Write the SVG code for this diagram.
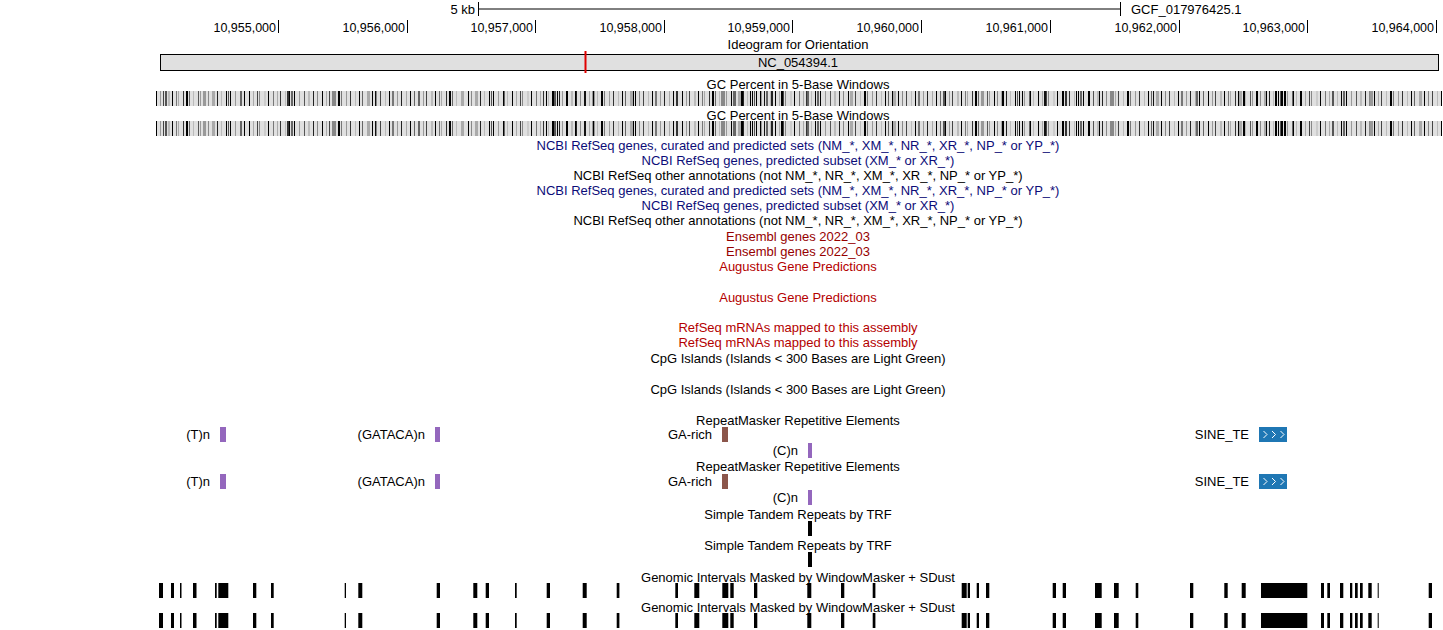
<svg xmlns="http://www.w3.org/2000/svg" xmlns:xlink="http://www.w3.org/1999/xlink" width="1443" height="630" viewBox="0 0 1443 630">
<style>
text{font-family:"Liberation Sans",Arial,Helvetica,sans-serif;font-size:13px;fill:#000}
.c{text-anchor:middle}
.e{text-anchor:end}
.r{font-size:12.5px}
text.blue{fill:#0c0c78}
text.ens{fill:#960000}
text.red{fill:#b40000}
.ln{stroke:#000;stroke-width:1;fill:none}
.pur{fill:#9467bd}
.brn{fill:#8c564b}
.sine{fill:#1f77b4}
.chev{stroke:#fff;stroke-width:1;fill:none}
</style>
<defs>
<pattern id="gcA" x="156" y="0" width="263" height="15" patternUnits="userSpaceOnUse">
<rect width="263" height="15" fill="#e0e0e0"/>
<rect x="0" width="1" height="15" fill="#000"/><rect x="4" width="1" height="15" fill="#999"/><rect x="7" width="1" height="15" fill="#444"/><rect x="12" width="2" height="15" fill="#bbb"/><rect x="16" width="1" height="15" fill="#000"/><rect x="20" width="1" height="15" fill="#777"/><rect x="22" width="1" height="15" fill="#aaa"/><rect x="27" width="1" height="15" fill="#333"/><rect x="30" width="2" height="15" fill="#000"/><rect x="33" width="1" height="15" fill="#666"/><rect x="37" width="1" height="15" fill="#bbb"/><rect x="42" width="1" height="15" fill="#555"/><rect x="44" width="1" height="15" fill="#999"/><rect x="49" width="1" height="15" fill="#000"/><rect x="52" width="1" height="15" fill="#888"/><rect x="56" width="3" height="15" fill="#aaa"/><rect x="61" width="1" height="15" fill="#222"/><rect x="65" width="1" height="15" fill="#bbb"/><rect x="70" width="1" height="15" fill="#000"/><rect x="72" width="1" height="15" fill="#555"/><rect x="74" width="1" height="15" fill="#000"/><rect x="79" width="1" height="15" fill="#999"/><rect x="84" width="2" height="15" fill="#666"/><rect x="88" width="1" height="15" fill="#bbb"/><rect x="93" width="1" height="15" fill="#000"/><rect x="97" width="1" height="15" fill="#aaa"/><rect x="101" width="1" height="15" fill="#444"/><rect x="103" width="1" height="15" fill="#888"/><rect x="108" width="2" height="15" fill="#ccc"/><rect x="112" width="1" height="15" fill="#000"/><rect x="117" width="1" height="15" fill="#777"/><rect x="121" width="1" height="15" fill="#aaa"/><rect x="124" width="1" height="15" fill="#333"/><rect x="129" width="1" height="15" fill="#bbb"/><rect x="133" width="1" height="15" fill="#000"/><rect x="135" width="2" height="15" fill="#666"/><rect x="138" width="1" height="15" fill="#000"/><rect x="143" width="1" height="15" fill="#999"/><rect x="148" width="1" height="15" fill="#555"/><rect x="152" width="2" height="15" fill="#bbb"/><rect x="157" width="1" height="15" fill="#222"/><rect x="161" width="1" height="15" fill="#888"/><rect x="166" width="1" height="15" fill="#000"/><rect x="170" width="1" height="15" fill="#aaa"/><rect x="173" width="1" height="15" fill="#444"/><rect x="178" width="1" height="15" fill="#bbb"/><rect x="182" width="2" height="15" fill="#000"/><rect x="185" width="1" height="15" fill="#777"/><rect x="190" width="1" height="15" fill="#999"/><rect x="194" width="1" height="15" fill="#333"/><rect x="199" width="1" height="15" fill="#bbb"/><rect x="203" width="1" height="15" fill="#000"/><rect x="206" width="1" height="15" fill="#666"/><rect x="211" width="3" height="15" fill="#aaa"/><rect x="216" width="1" height="15" fill="#000"/><rect x="220" width="1" height="15" fill="#888"/><rect x="224" width="1" height="15" fill="#444"/><rect x="229" width="1" height="15" fill="#bbb"/><rect x="233" width="1" height="15" fill="#000"/><rect x="236" width="2" height="15" fill="#777"/><rect x="241" width="1" height="15" fill="#999"/><rect x="245" width="1" height="15" fill="#222"/><rect x="250" width="1" height="15" fill="#aaa"/><rect x="254" width="1" height="15" fill="#000"/><rect x="258" width="1" height="15" fill="#666"/>
</pattern>
<pattern id="gcB" x="156" y="0" width="389" height="15" patternUnits="userSpaceOnUse">
<rect x="9" width="2" height="15" fill="#555"/><rect x="47" width="3" height="15" fill="#999"/><rect x="88" width="1" height="15" fill="#000"/><rect x="131" width="2" height="15" fill="#333"/><rect x="176" width="4" height="15" fill="#888"/><rect x="219" width="1" height="15" fill="#111"/><rect x="262" width="2" height="15" fill="#666"/><rect x="305" width="3" height="15" fill="#aaa"/><rect x="347" width="1" height="15" fill="#000"/>
</pattern>
<g id="gcbar">
<rect x="156" y="0" width="1286" height="15" fill="url(#gcA)"/>
<rect x="156" y="0" width="1286" height="15" fill="url(#gcB)"/>
<rect x="546" width="1" height="15" fill="#000"/><rect x="552" width="2" height="15" fill="#000"/><rect x="559" width="1" height="15" fill="#222"/><rect x="566" width="2" height="15" fill="#000"/><rect x="575" width="1" height="15" fill="#000"/><rect x="584" width="2" height="15" fill="#111"/><rect x="593" width="1" height="15" fill="#000"/>
<rect x="733" width="3" height="15" fill="#666"/><rect x="741" width="2" height="15" fill="#000"/><rect x="750" width="1" height="15" fill="#000"/><rect x="760" width="1" height="15" fill="#000"/><rect x="771" width="2" height="15" fill="#222"/><rect x="781" width="2" height="15" fill="#000"/>
<rect x="1002" width="2" height="15" fill="#000"/><rect x="1015" width="1" height="15" fill="#000"/><rect x="1030" width="1" height="15" fill="#000"/><rect x="1044" width="2" height="15" fill="#111"/><rect x="1062" width="2" height="15" fill="#000"/><rect x="1076" width="1" height="15" fill="#000"/><rect x="1088" width="2" height="15" fill="#000"/><rect x="1099" width="1" height="15" fill="#000"/>
<rect x="1243" width="2" height="15" fill="#000"/><rect x="1256" width="1" height="15" fill="#000"/><rect x="1266" width="1" height="15" fill="#000"/><rect x="1275" width="2" height="15" fill="#000"/><rect x="1284" width="2" height="15" fill="#000"/><rect x="1293" width="1" height="15" fill="#000"/><rect x="1300" width="1" height="15" fill="#000"/>
</g>
<g id="wm">
<rect x="159" width="4" height="15"/><rect x="171" width="3" height="15"/><rect x="180" width="1.5" height="15"/><rect x="193" width="3.5" height="15"/><rect x="215" width="1.7" height="15"/><rect x="218.3" width="10" height="15"/><rect x="253" width="3.3" height="15"/><rect x="271" width="2.7" height="15"/><rect x="344.7" width="1.3" height="15"/><rect x="358.3" width="4" height="15"/><rect x="436.7" width="3.3" height="15"/><rect x="473.3" width="4" height="15"/><rect x="485.7" width="3.3" height="15"/><rect x="515" width="1.7" height="15"/><rect x="546.7" width="3.3" height="15"/><rect x="582.7" width="4" height="15"/><rect x="616.7" width="2.7" height="15"/><rect x="675.3" width="2.7" height="15"/><rect x="694.3" width="5" height="15"/><rect x="722.3" width="6" height="15"/><rect x="730.3" width="3.4" height="15"/><rect x="754" width="3.3" height="15"/><rect x="807.3" width="4" height="15"/><rect x="841" width="3.3" height="15"/><rect x="872.7" width="2.7" height="15"/><rect x="961.7" width="5" height="15"/><rect x="967.7" width="2.3" height="15"/><rect x="976.7" width="2.3" height="15"/><rect x="986" width="3.3" height="15"/><rect x="1052.7" width="3.3" height="15"/><rect x="1062.7" width="3.3" height="15"/><rect x="1095" width="6.7" height="15"/><rect x="1114" width="4.7" height="15"/><rect x="1135.7" width="2.6" height="15"/><rect x="1190" width="3.3" height="15"/><rect x="1224.3" width="3.4" height="15"/><rect x="1241.7" width="4" height="15"/><rect x="1261" width="46.3" height="15"/><rect x="1321" width="3" height="15"/><rect x="1327.3" width="2.7" height="15"/><rect x="1340" width="3.3" height="15"/><rect x="1350" width="2.3" height="15"/><rect x="1355" width="2.7" height="15"/><rect x="1360" width="2.7" height="15"/><rect x="1368.3" width="3.4" height="15"/><rect x="1377.7" width="1" height="15"/><rect x="1428.7" width="3.3" height="15"/>
</g>
</defs>
<rect width="1443" height="630" fill="#fff"/>

<g id="scalebar">
<text x="475" y="14" class="e">5 kb</text>
<path class="ln" d="M478.5 2V16M478.5 9H1120.5M1120.5 2V16"/>
<text x="1131" y="14">GCF_017976425.1</text>
</g>

<g id="ruler">
<path class="ln" d="M278.5 20V33M407.5 20V33M535.5 20V33M664.5 20V33M792.5 20V33M921.5 20V33M1050.5 20V33M1179.5 20V33M1307.5 20V33M1436.5 20V33"/>
<text class="e r" x="276" y="32">10,955,000</text>
<text class="e r" x="405" y="32">10,956,000</text>
<text class="e r" x="533" y="32">10,957,000</text>
<text class="e r" x="662" y="32">10,958,000</text>
<text class="e r" x="790" y="32">10,959,000</text>
<text class="e r" x="919" y="32">10,960,000</text>
<text class="e r" x="1048" y="32">10,961,000</text>
<text class="e r" x="1177" y="32">10,962,000</text>
<text class="e r" x="1305" y="32">10,963,000</text>
<text class="e r" x="1434" y="32">10,964,000</text>
</g>

<g id="ideogram">
<text class="c" x="798" y="48.5">Ideogram for Orientation</text>
<rect x="160.5" y="54.5" width="1278" height="16" fill="#e0e0e0" stroke="#000" stroke-width="1"/>
<text class="c" x="798" y="66.5">NC_054394.1</text>
<rect x="584.5" y="51" width="2" height="22" fill="#e00000"/>
</g>

<g id="gc-percent-1">
<text class="c" x="798" y="88.5">GC Percent in 5-Base Windows</text>
<use xlink:href="#gcbar" href="#gcbar" y="91"/>
</g>
<g id="gc-percent-2">
<text class="c" x="798" y="119.5">GC Percent in 5-Base Windows</text>
<use xlink:href="#gcbar" href="#gcbar" y="121"/>
</g>

<g id="ncbi-refseq">
<text class="c blue" x="798" y="150.3" fill="#0c0c78">NCBI RefSeq genes, curated and predicted sets (NM_*, XM_*, NR_*, XR_*, NP_* or YP_*)</text>
<text class="c blue" x="798" y="165.3" fill="#0c0c78">NCBI RefSeq genes, predicted subset (XM_* or XR_*)</text>
<text class="c" x="798" y="180.3">NCBI RefSeq other annotations (not NM_*, NR_*, XM_*, XR_*, NP_* or YP_*)</text>
<text class="c blue" x="798" y="195.3" fill="#0c0c78">NCBI RefSeq genes, curated and predicted sets (NM_*, XM_*, NR_*, XR_*, NP_* or YP_*)</text>
<text class="c blue" x="798" y="210.3" fill="#0c0c78">NCBI RefSeq genes, predicted subset (XM_* or XR_*)</text>
<text class="c" x="798" y="225.3">NCBI RefSeq other annotations (not NM_*, NR_*, XM_*, XR_*, NP_* or YP_*)</text>
</g>

<g id="ensembl">
<text class="c ens" x="798" y="241.3">Ensembl genes 2022_03</text>
<text class="c ens" x="798" y="256.3">Ensembl genes 2022_03</text>
</g>

<g id="augustus">
<text class="c red" x="798" y="271">Augustus Gene Predictions</text>
<text class="c red" x="798" y="302">Augustus Gene Predictions</text>
</g>

<g id="refseq-mrna">
<text class="c red" x="798" y="332">RefSeq mRNAs mapped to this assembly</text>
<text class="c red" x="798" y="347">RefSeq mRNAs mapped to this assembly</text>
</g>

<g id="cpg">
<text class="c" x="798" y="362.5">CpG Islands (Islands &lt; 300 Bases are Light Green)</text>
<text class="c" x="798" y="393.5">CpG Islands (Islands &lt; 300 Bases are Light Green)</text>
</g>

<g id="repeatmasker-1">
<text class="c" x="798" y="425">RepeatMasker Repetitive Elements</text>
<text class="e" x="210" y="438.5">(T)n</text>
<rect class="pur" x="220" y="427" width="6" height="15"/>
<text class="e" x="425" y="438.5">(GATACA)n</text>
<rect class="pur" x="435" y="427" width="5" height="15"/>
<text class="e" x="712" y="438.5">GA-rich</text>
<rect class="brn" x="722" y="427" width="6" height="15"/>
<text class="e" x="1249" y="438.5">SINE_TE</text>
<rect class="sine" x="1259" y="427" width="28" height="15"/>
<path class="chev" d="M1263.5 431L1267 434.5L1263.5 438M1272 431L1275.5 434.5L1272 438M1280.5 431L1284 434.5L1280.5 438"/>
<text class="e" x="798" y="455">(C)n</text>
<rect class="pur" x="808" y="443" width="4" height="15"/>
</g>

<g id="repeatmasker-2">
<text class="c" x="798" y="471">RepeatMasker Repetitive Elements</text>
<text class="e" x="210" y="485.5">(T)n</text>
<rect class="pur" x="220" y="474" width="6" height="15"/>
<text class="e" x="425" y="485.5">(GATACA)n</text>
<rect class="pur" x="435" y="474" width="5" height="15"/>
<text class="e" x="712" y="485.5">GA-rich</text>
<rect class="brn" x="722" y="474" width="6" height="15"/>
<text class="e" x="1249" y="485.5">SINE_TE</text>
<rect class="sine" x="1259" y="474" width="28" height="15"/>
<path class="chev" d="M1263.5 478L1267 481.5L1263.5 485M1272 478L1275.5 481.5L1272 485M1280.5 478L1284 481.5L1280.5 485"/>
<text class="e" x="798" y="502">(C)n</text>
<rect class="pur" x="808" y="490" width="4" height="15"/>
</g>

<g id="trf">
<text class="c" x="798" y="518.5">Simple Tandem Repeats by TRF</text>
<rect x="808" y="521" width="4" height="15" fill="#000"/>
<text class="c" x="798" y="549.5">Simple Tandem Repeats by TRF</text>
<rect x="808" y="552" width="4" height="15" fill="#000"/>
</g>

<g id="windowmasker">
<text class="c" x="798" y="581.5">Genomic Intervals Masked by WindowMasker + SDust</text>
<use xlink:href="#wm" href="#wm" y="583"/>
<text class="c" x="798" y="611.5">Genomic Intervals Masked by WindowMasker + SDust</text>
<use xlink:href="#wm" href="#wm" y="613"/>
</g>
</svg>
